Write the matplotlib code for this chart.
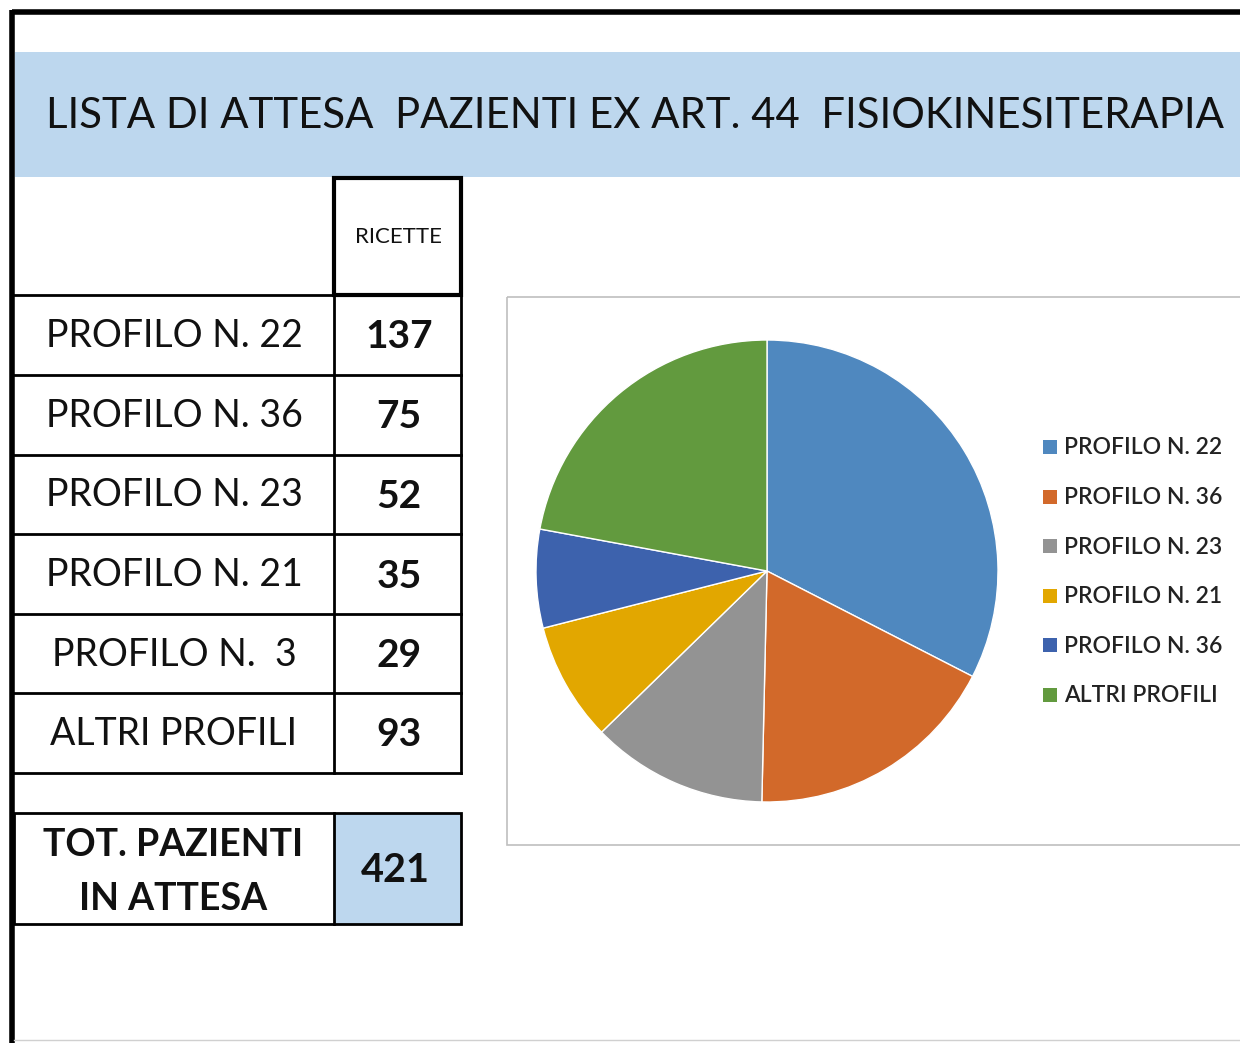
import matplotlib
matplotlib.use("Agg")
import matplotlib.pyplot as plt
from matplotlib.patches import Rectangle

# ---- data ----
title = "LISTA DI ATTESA  PAZIENTI EX ART. 44  FISIOKINESITERAPIA"
header = "RICETTE"
row_labels = ["PROFILO N. 22", "PROFILO N. 36", "PROFILO N. 23",
              "PROFILO N. 21", "PROFILO N.  3", "ALTRI PROFILI"]
values = [137, 75, 52, 35, 29, 93]
total_label = ["TOT. PAZIENTI", "IN ATTESA"]
total_value = 421
legend_labels = ["PROFILO N. 22", "PROFILO N. 36", "PROFILO N. 23",
                 "PROFILO N. 21", "PROFILO N. 36", "ALTRI PROFILI"]
colors = ["#4F88BF", "#D2692A", "#939393", "#E2A700", "#3D62AD", "#629A3E"]

FONT = ["Lato", "DejaVu Sans"]
W, H = 1240, 1043
fig = plt.figure(figsize=(W / 100, H / 100), dpi=100)
ax = fig.add_axes([0, 0, 1, 1])
ax.set_xlim(0, W)
ax.set_ylim(H, 0)
ax.axis("off")

# outer frame
ax.plot([12, W], [12, 12], color="black", lw=4, solid_capstyle="butt")
ax.plot([12, 12], [10, H], color="black", lw=4, solid_capstyle="butt")
ax.plot([14, W], [1040, 1040], color="#D0D0D0", lw=1)

# title band
ax.add_patch(Rectangle((15, 52), W - 15, 125, color="#BDD7EE", lw=0))
ax.text(46, 116, title, fontsize=30.2, family=FONT, va="center", ha="left", color="#111111")

# header box
ax.add_patch(Rectangle((334, 178), 127, 117, fill=False, ec="black", lw=3))
ax.text(398, 237, header, fontsize=16, family=FONT, ha="center", va="center", color="#111111")

# rows
row_y = [295, 375, 455, 534, 614, 693, 773]
for y in row_y:
    ax.plot([14, 461], [y, y], color="black", lw=2)
ax.plot([334, 334], [295, 773], color="black", lw=2)
ax.plot([461, 461], [295, 773], color="black", lw=2)
for i, (lab, v) in enumerate(zip(row_labels, values)):
    yc = (row_y[i] + row_y[i + 1]) / 2
    ax.text(174, yc + 1, lab, fontsize=27, family=FONT, ha="center", va="center", color="#111111")
    ax.text(399, yc + 2, str(v), fontsize=28, family=FONT, fontweight="bold",
            ha="center", va="center", color="#111111")

# total box
ax.add_patch(Rectangle((334, 813), 127, 111, color="#BDD7EE", lw=0))
ax.add_patch(Rectangle((14, 813), 447, 111, fill=False, ec="black", lw=2))
ax.plot([334, 334], [813, 924], color="black", lw=2)
ax.text(173, 845, total_label[0], fontsize=27, family=FONT, fontweight="bold",
        ha="center", va="center", color="#111111")
ax.text(173, 899, total_label[1], fontsize=27, family=FONT, fontweight="bold",
        ha="center", va="center", color="#111111")
ax.text(395, 870, str(total_value), fontsize=28.5, family=FONT, fontweight="bold",
        ha="center", va="center", color="#111111")

# chart area border
ax.add_patch(Rectangle((507, 297), W - 507 + 5, 548, fill=False, ec="#BFBFBF", lw=1.2))

# legend
leg_y0, leg_dy = 447, 49.6
for i, (lab, c) in enumerate(zip(legend_labels, colors)):
    y = leg_y0 + i * leg_dy
    ax.add_patch(Rectangle((1043, y - 7), 14, 14, color=c, lw=0))
    ax.text(1064, y + 1, lab, fontsize=16.5, family=FONT, fontweight="semibold",
            ha="left", va="center", color="#222222")

# pie
cx, cy, r = 767, 571, 231
pax = fig.add_axes([(cx - r) / W, (H - cy - r) / H, 2 * r / W, 2 * r / H])
pax.pie(values, colors=colors, startangle=90, counterclock=False, radius=1,
        wedgeprops=dict(edgecolor="white", linewidth=1))
pax.set_xlim(-1, 1)
pax.set_ylim(-1, 1)
pax.set_aspect("equal")
pax.axis("off")

fig.savefig("out.png", dpi=100)
